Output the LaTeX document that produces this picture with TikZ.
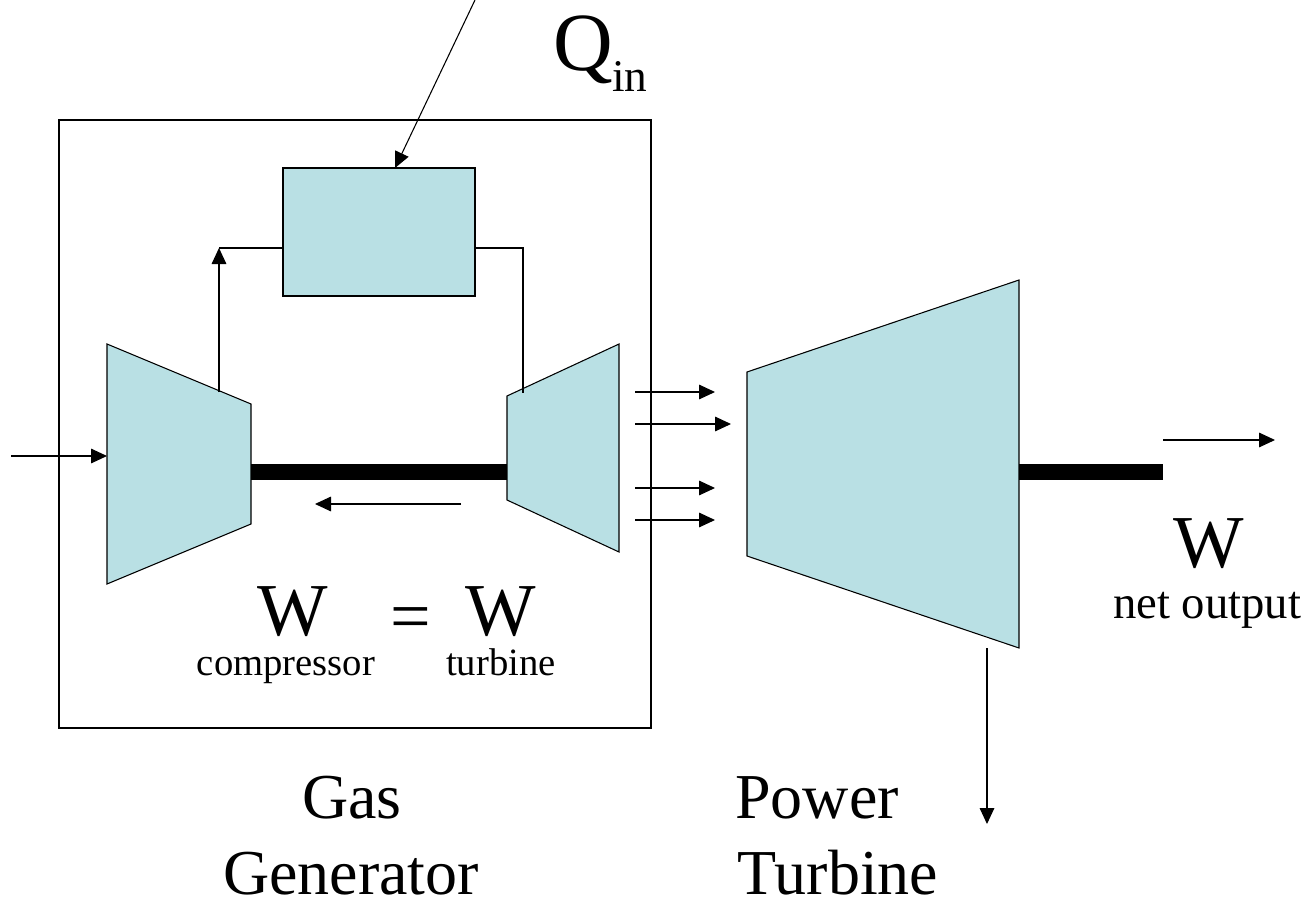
\documentclass[tikz,border=0pt]{standalone}
\usepackage{fontspec}
\setmainfont{Liberation Serif}
\usetikzlibrary{arrows.meta}
\definecolor{machine}{RGB}{185,224,228}
\tikzset{
  flow/.style={-{Triangle[length=12pt,width=11pt]},line width=0.8pt},
  edge/.style={draw=black,line width=0.8pt},
  label/.style={inner sep=0pt,anchor=base},
}
\begin{document}
\begin{tikzpicture}[x=0.75pt,y=0.75pt,yscale=-1]
    \useasboundingbox (0,0) rectangle (1314,899);

    % gas generator box
    \draw (59,120) node [edge, draw, anchor=north west, minimum width=444pt, minimum height=456pt, inner sep=0pt, outer sep=0pt] (box) {};
    \draw (379,232) node [edge, draw, fill=machine, minimum width=144pt, minimum height=96pt, inner sep=0pt, outer sep=0pt] (burner) {};

    % machines
    \draw [edge, fill=machine] (107,344) coordinate (c1) -- (251,404) coordinate (c2) -- (251,524) coordinate (c3) -- (107,584) coordinate (c4) -- cycle;
    \draw [edge, fill=machine] (507,396) coordinate (t1) -- (619,344) coordinate (t2) -- (619,552) coordinate (t3) -- (507,500) coordinate (t4) -- cycle;
    \draw [edge, fill=machine] (747,372) coordinate (p1) -- (1019,280) coordinate (p2) -- (1019,648) coordinate (p3) -- (747,556) coordinate (p4) -- cycle;

    % shafts
    \coordinate (s1) at (251,472);
    \coordinate (s2) at (507,472);
    \coordinate (s3) at (1019,472);
    \coordinate (s4) at (1163,472);
    \draw [line width=12pt] (s1) -- (s2);
    \draw [line width=12pt] (s3) -- (s4);

    % gas path
    \coordinate (a1) at (475,0);
    \coordinate (a2) at (395,168);
    \coordinate (a3) at (11,456);
    \coordinate (a4) at (107,456);
    \coordinate (a5) at (219,392);
    \coordinate (a6) at (219,248);
    \coordinate (a7) at (523,248);
    \coordinate (a8) at (523,393);
    \draw [flow] (a1) -- (a2);
    \draw [flow] (a3) -- (a4);
    \draw [edge] (burner.west |- a6) -- (a6);
    \draw [flow] (a5) -- (a6);
    \draw [edge] (burner.east |- a7) -- (a7) -- (a8);

    % short arrows
    \coordinate (b1) at (635,392); \coordinate (b2) at (715,392);
    \coordinate (b3) at (635,424); \coordinate (b4) at (731,424);
    \coordinate (b5) at (635,488); \coordinate (b6) at (715,488);
    \coordinate (b7) at (635,520); \coordinate (b8) at (715,520);
    \coordinate (b9) at (461,504); \coordinate (b10) at (315,504);
    \coordinate (b11) at (1163,440); \coordinate (b12) at (1275,440);
    \coordinate (b13) at (987,648); \coordinate (b14) at (987,824);
    \draw [flow] (b1) -- (b2);
    \draw [flow] (b3) -- (b4);
    \draw [flow] (b5) -- (b6);
    \draw [flow] (b7) -- (b8);
    \draw [flow] (b9) -- (b10);
    \draw [flow] (b11) -- (b12);
    \draw [flow] (b13) -- (b14);

    % texts
    \draw (583,71) node [label, font=\fontsize{62}{62}\selectfont] (qmain) {Q};
    \draw (630,92) node [label, font=\fontsize{34}{34}\selectfont] (qsub) {in};
    \draw (293,635) node [label, font=\fontsize{56}{56}\selectfont] (wc) {W};
    \draw (411,640) node [label, font=\fontsize{54}{54}\selectfont] (eq) {=};
    \draw (501,635) node [label, font=\fontsize{56}{56}\selectfont] (wt) {W};
    \draw (286,675) node [label, font=\fontsize{29}{29}\selectfont] (comp) {compressor};
    \draw (501,675) node [label, font=\fontsize{29}{29}\selectfont] (turb) {turbine};
    \draw (1209,567) node [label, font=\fontsize{56}{56}\selectfont] (wn) {W};
    \draw (1207,618) node [label, font=\fontsize{35}{35}\selectfont] (net) {net output};
    \draw (352,818) node [label, font=\fontsize{48}{48}\selectfont] (gas) {Gas};
    \draw (351,894) node [label, font=\fontsize{48}{48}\selectfont] (gen) {Generator};
    \draw (817,818) node [label, font=\fontsize{48}{48}\selectfont] (pow) {Power};
    \draw (838,894) node [label, font=\fontsize{48}{48}\selectfont] (tur) {Turbine};

\end{tikzpicture}
\end{document}
